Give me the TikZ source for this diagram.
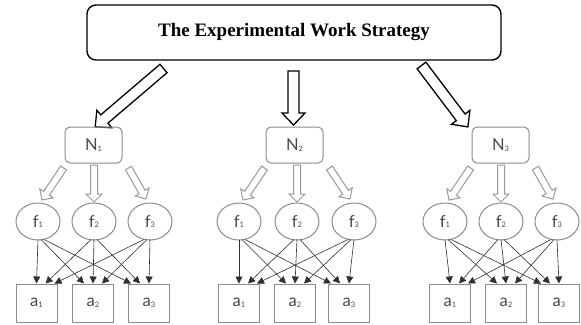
\documentclass[tikz,border=0pt]{standalone}
\usepackage{fontspec}
\setmainfont{Liberation Serif}
\newfontfamily\labelfont{Lato}
\usetikzlibrary{shapes.geometric,arrows.meta,calc}
\definecolor{boxgray}{HTML}{8C8C8C}
\definecolor{txtgray}{HTML}{474747}
\definecolor{arrgray}{HTML}{9A9A9A}
\definecolor{lnk}{HTML}{303030}
\newcommand\sbs[1]{\raisebox{-0.6pt}{\fontsize{7.5}{8}\selectfont #1}}
\newcommand\blockarr[6]{%
  \path let \p1=(#2), \p2=(#3) in \pgfextra{%
    \pgfmathsetmacro\bka{atan2(\y2-\y1,\x2-\x1)}%
    \pgfmathsetmacro\bkl{veclen(\x2-\x1,\y2-\y1)}%
    \xdef\bkang{\bka}\xdef\bklen{\bkl}};
  \begin{scope}[shift={(#2)},rotate=\bkang]
    \draw[#1] (0pt,-#4pt) -- ({\bklen pt-#6pt},-#4pt) -- ({\bklen pt-#6pt},-#5pt)
      -- ({\bklen pt},0pt) -- ({\bklen pt-#6pt},#5pt) -- ({\bklen pt-#6pt},#4pt)
      -- (0pt,#4pt) -- cycle;
  \end{scope}}
\begin{document}
\begin{tikzpicture}[x=1pt,y=-1pt,
  titlebox/.style={draw=black,line width=1.4pt,rounded corners=9pt,minimum width=414pt,minimum height=55pt,inner sep=0pt,
    font=\fontsize{19}{21}\selectfont\bfseries},
  nbox/.style={draw=boxgray,line width=1pt,rounded corners=5pt,minimum width=57pt,minimum height=36pt,inner sep=0pt,
    text=txtgray,font=\labelfont\fontsize{16.5}{18}\selectfont},
  fell/.style={ellipse,draw=boxgray,line width=1pt,minimum width=44pt,minimum height=37pt,inner sep=0pt,
    text=txtgray,font=\labelfont\fontsize{16.5}{18}\selectfont},
  abox/.style={draw=boxgray,line width=1pt,minimum width=41pt,minimum height=38pt,inner sep=0pt,
    text=txtgray,font=\labelfont\fontsize{16.5}{18}\selectfont},
  bigarr/.style={draw=black,fill=white,line width=1.3pt,line join=miter},
  grayarr/.style={draw=arrgray,fill=white,line width=1pt,line join=miter},
  farrow/.style={draw=lnk,line width=0.6pt,-{Triangle[length=7pt,width=7pt]}}
]
\useasboundingbox (0,0) rectangle (581,324);
\node[titlebox] (T) at (294,32.5) {The Experimental Work Strategy};
\coordinate (T1s) at (163.5,68.5);
\coordinate (T1e) at (95,127);
\coordinate (T2s) at (293.5,71);
\coordinate (T2e) at (293.5,125);
\coordinate (T3s) at (421.5,65.5);
\coordinate (T3e) at (468,127);
\blockarr{bigarr}{T1s}{T1e}{5.5}{11.5}{12}
\blockarr{bigarr}{T2s}{T2e}{5.5}{11.5}{12}
\blockarr{bigarr}{T3s}{T3e}{5.5}{11.5}{12}
\foreach \g/\nx/\fa/\fb/\fc/\aa/\ab/\ac in
  {1/93.5/38/94/150/36.5/93/149, 2/294.5/239/297/354/239/295/349, 3/500.5/445/501/557/450/506/559}{
  \node[nbox] (N\g) at (\nx,145) {N\sbs{\g}};
  \node[fell] (f\g1) at (\fa,221.5) {f\sbs{1}};
  \node[fell] (f\g2) at (\fb,221.5) {f\sbs{2}};
  \node[fell] (f\g3) at (\fc,221.5) {f\sbs{3}};
  \node[abox] (a\g1) at (\aa,303) {a\sbs{1}};
  \node[abox] (a\g2) at (\ab,303) {a\sbs{2}};
  \node[abox] (a\g3) at (\ac,303) {a\sbs{3}};
  \coordinate (n\g s1) at (\nx-30,168);
  \coordinate (n\g e1) at (\fa+4,200);
  \coordinate (n\g s2) at (\fb,165);
  \coordinate (n\g e2) at (\fb,202);
  \coordinate (n\g s3) at (\nx+35,168);
  \coordinate (n\g e3) at (\fc-4,199);
  \blockarr{grayarr}{n\g s1}{n\g e1}{3.5}{8}{8}
  \blockarr{grayarr}{n\g s2}{n\g e2}{3.5}{8}{8}
  \blockarr{grayarr}{n\g s3}{n\g e3}{3.5}{8}{8}
  \foreach \i in {1,2,3}{
    \foreach \j in {1,2,3}{
      \draw[farrow] ([xshift={3*(\j-\i)*1pt},yshift=1pt]f\g\i.south) -- ([xshift={9*(\i-\j)*1pt}]a\g\j.north);
    }
  }
}
\end{tikzpicture}
\end{document}
